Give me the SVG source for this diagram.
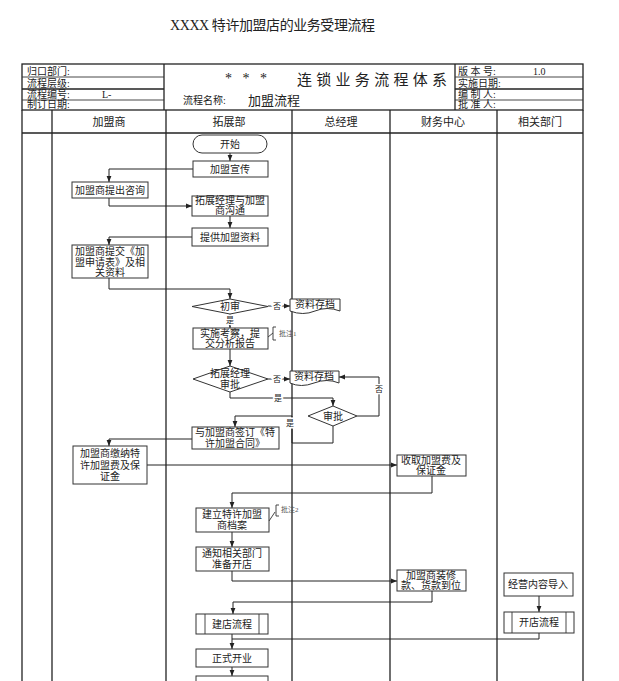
<svg xmlns="http://www.w3.org/2000/svg" width="619" height="681" viewBox="0 0 619 681">
<style>
text{font-family:"Liberation Serif","Noto Sans CJK SC",serif;fill:#222;}
.t{font-size:10px;text-anchor:middle;}
.h{font-size:10px;}
.col{font-size:11px;text-anchor:middle;}
.lbl{font-size:8px;text-anchor:middle;stroke:#fff;stroke-width:3px;paint-order:stroke;}
.note{font-size:7px;fill:#555;}
.box{fill:#fff;stroke:#333;stroke-width:1;}
.frame{fill:none;stroke:#222;stroke-width:1.3;}
.thin{fill:none;stroke:#333;stroke-width:0.9;}
.con{fill:none;stroke:#222;stroke-width:1;marker-end:url(#arr);}
.line{fill:none;stroke:#222;stroke-width:1;}
</style>
<defs>
<marker id="arr" viewBox="0 0 10 10" refX="10" refY="5" markerWidth="6" markerHeight="6" orient="auto"><path d="M0,1 L10,5 L0,9 z" fill="#222"/></marker>
</defs>
<rect width="619" height="681" fill="#fff"/>
<text x="170" y="30" font-size="14" textLength="205" lengthAdjust="spacing">XXXX 特许加盟店的业务受理流程</text>

<g id="frame">
<rect class="frame" x="22" y="64" width="561" height="46"/>
<line class="frame" x1="164" y1="64" x2="164" y2="110"/>
<line class="frame" x1="455" y1="64" x2="455" y2="110"/>
<line class="thin" x1="22" y1="77" x2="164" y2="77"/>
<line class="frame" x1="22" y1="89" x2="164" y2="89"/>
<line class="thin" x1="22" y1="100" x2="164" y2="100"/>
<line class="thin" x1="455" y1="77" x2="583" y2="77"/>
<line class="frame" x1="455" y1="89" x2="583" y2="89"/>
<line class="thin" x1="455" y1="100" x2="583" y2="100"/>
<text class="h" x="27" y="75">归口部门:</text>
<text class="h" x="27" y="87">流程层级:</text>
<text class="h" x="27" y="98">流程编号:</text>
<text class="h" x="102" y="98">L-</text>
<text class="h" x="27" y="108">制订日期:</text>
<text x="225" y="83" font-size="14" textLength="42" lengthAdjust="spacing">* * *</text>
<text x="297" y="85" font-size="15" textLength="150" lengthAdjust="spacing">连锁业务流程体系</text>
<text x="183" y="104" font-size="10">流程名称:</text>
<text x="248" y="105" font-size="13">加盟流程</text>
<text class="h" x="458" y="75">版 本 号:</text>
<text class="h" x="533" y="75">1.0</text>
<text class="h" x="458" y="87">实施日期:</text>
<text class="h" x="458" y="98">编 制 人:</text>
<text class="h" x="458" y="108">批 准 人:</text>
<line class="frame" x1="22" y1="110" x2="22" y2="681"/>
<line class="frame" x1="583" y1="110" x2="583" y2="681"/>
<line class="frame" x1="22" y1="133" x2="583" y2="133"/>
<line class="frame" x1="52" y1="110" x2="52" y2="681"/>
<line class="frame" x1="166" y1="110" x2="166" y2="681"/>
<line class="frame" x1="292" y1="110" x2="292" y2="681"/>
<line class="frame" x1="390" y1="110" x2="390" y2="681"/>
<line class="frame" x1="497" y1="110" x2="497" y2="681"/>
<text class="col" x="109" y="126">加盟商</text>
<text class="col" x="229" y="126">拓展部</text>
<text class="col" x="341" y="126">总经理</text>
<text class="col" x="443" y="126">财务中心</text>
<text class="col" x="540" y="126">相关部门</text>
</g>

<g id="connectors">
<path class="con" d="M230,153 V161"/>
<path class="con" d="M193,169 H109 V182"/>
<path class="con" d="M109,198 V206 H192"/>
<path class="con" d="M230,216 V228"/>
<path class="con" d="M192,237 H109 V245"/>
<path class="con" d="M109,278 V289 H230 V299"/>
<path class="con" d="M268,306 H290"/>
<path class="con" d="M230,314 V328"/>
<path class="con" d="M230,349 V366"/>
<path class="con" d="M268,379 H290"/>
<path class="con" d="M230,392 V398 H333 V406"/>
<path class="con" d="M357,416 H379 V377 H339"/>
<path class="con" d="M333,426 V443 H292 V416 H235 V427"/>
<path class="con" d="M192,439 H109 V446"/>
<path class="con" d="M147,465 H397"/>
<path class="con" d="M432,476 V493 H232 V508"/>
<path class="con" d="M232,532 V547"/>
<path class="con" d="M232,571 V581 H397"/>
<path class="con" d="M432,591 V602 H233 V614"/>
<path class="con" d="M539,596 V612"/>
<path class="line" d="M539,633 V639 H232"/>
<path class="con" d="M232,634 V649"/>
<path class="con" d="M232,667 V676"/>
<text class="lbl" x="277" y="309">否</text>
<text class="lbl" x="230" y="323">是</text>
<text class="lbl" x="277" y="382">否</text>
<text class="lbl" x="278" y="401">是</text>
<text class="lbl" x="379" y="392">否</text>
<text class="lbl" x="290" y="426">是</text>
</g>

<g id="n_start"><rect class="box" x="193" y="135" width="74" height="18" rx="9"/><text class="t" x="230" y="147.5">开始</text></g>
<g id="n_xuanchuan"><rect class="box" x="193" y="161" width="75" height="16"/><text class="t" x="230" y="172.5">加盟宣传</text></g>
<g id="n_zixun"><rect class="box" x="72" y="182" width="76" height="16"/><text class="t" x="110" y="193.5">加盟商提出咨询</text></g>
<g id="n_goutong"><rect class="box" x="192" y="196" width="76" height="20"/><text class="t" x="230" y="204">拓展经理与加盟</text><text class="t" x="230" y="214">商沟通</text></g>
<g id="n_ziliao"><rect class="box" x="192" y="228" width="76" height="18"/><text class="t" x="230" y="240.5">提供加盟资料</text></g>
<g id="n_tijiao"><rect class="box" x="72" y="245" width="76" height="33"/><text class="t" x="110" y="255">加盟商提交《加</text><text class="t" x="110" y="265.5">盟申请表》及相</text><text class="t" x="110" y="276">关资料</text></g>
<g id="d_chushen"><path class="box" d="M192,306.5 L230,299 L268,306.5 L230,314 Z"/><text class="t" x="230" y="310">初审</text></g>
<g id="doc1"><path class="box" d="M290,299 H340 V311 Q327,306 315,311 T290,311 Z"/><text class="t" x="315" y="308">资料存档</text></g>
<g id="n_kaocha"><rect class="box" x="193" y="328" width="75" height="21"/><text class="t" x="230" y="337">实施考察，提</text><text class="t" x="230" y="347">交分析报告</text></g>
<g id="note1"><path class="thin" d="M268,337 L273,333 M276,327 H273 V340 H276"/><text class="note" x="279" y="336">批注1</text></g>
<g id="d_tuozhan"><path class="box" d="M193,379 L230,366 L268,379 L230,392 Z"/><text class="t" x="230" y="377">拓展经理</text><text class="t" x="230" y="388">审批</text></g>
<g id="doc2"><path class="box" d="M290,371 H339 V383 Q327,378 314,383 T290,383 Z"/><text class="t" x="314" y="380">资料存档</text></g>
<g id="d_shenpi"><path class="box" d="M308,416 L333,406 L357,416 L333,426 Z"/><text class="t" x="333" y="419.5">审批</text></g>
<g id="n_qianding"><rect class="box" x="192" y="427" width="87" height="22"/><text class="t" x="235" y="436">与加盟商签订《特</text><text class="t" x="235" y="446.5">许加盟合同》</text></g>
<g id="n_jiaona"><rect class="box" x="73" y="446" width="74" height="38"/><text class="t" x="110" y="457">加盟商缴纳特</text><text class="t" x="110" y="468.5">许加盟费及保</text><text class="t" x="110" y="480">证金</text></g>
<g id="n_shouqu"><rect class="box" x="397" y="455" width="69" height="21"/><text class="t" x="431" y="464">收取加盟费及</text><text class="t" x="431" y="474">保证金</text></g>
<g id="n_jianli"><rect class="box" x="196" y="508" width="73" height="24"/><text class="t" x="232" y="518">建立特许加盟</text><text class="t" x="232" y="529">商档案</text></g>
<g id="note2"><path class="thin" d="M269,521 L275,512 M279,505 H276 V516 H279"/><text class="note" x="281" y="512">批注2</text></g>
<g id="n_tongzhi"><rect class="box" x="196" y="547" width="73" height="24"/><text class="t" x="232" y="557">通知相关部门</text><text class="t" x="232" y="568">准备开店</text></g>
<g id="n_zhuangxiu"><rect class="box" x="397" y="570" width="69" height="21"/><text class="t" x="431" y="579">加盟商装修</text><text class="t" x="431" y="589">款、货款到位</text></g>
<g id="n_jingying"><rect class="box" x="504" y="573" width="69" height="23"/><text class="t" x="538" y="588">经营内容导入</text></g>
<g id="p_kaidian"><rect class="box" x="504" y="612" width="70" height="21"/><path class="thin" d="M512,612 V633 M566,612 V633"/><text class="t" x="539" y="626">开店流程</text></g>
<g id="p_jiandian"><rect class="box" x="196" y="614" width="72" height="20"/><path class="thin" d="M205,614 V634 M259,614 V634"/><text class="t" x="232" y="627.5">建店流程</text></g>
<g id="n_kaiye"><rect class="box" x="196" y="649" width="72" height="18"/><text class="t" x="232" y="661.5">正式开业</text></g>
<g id="n_next"><rect class="box" x="196" y="676" width="72" height="20"/></g>
</svg>
